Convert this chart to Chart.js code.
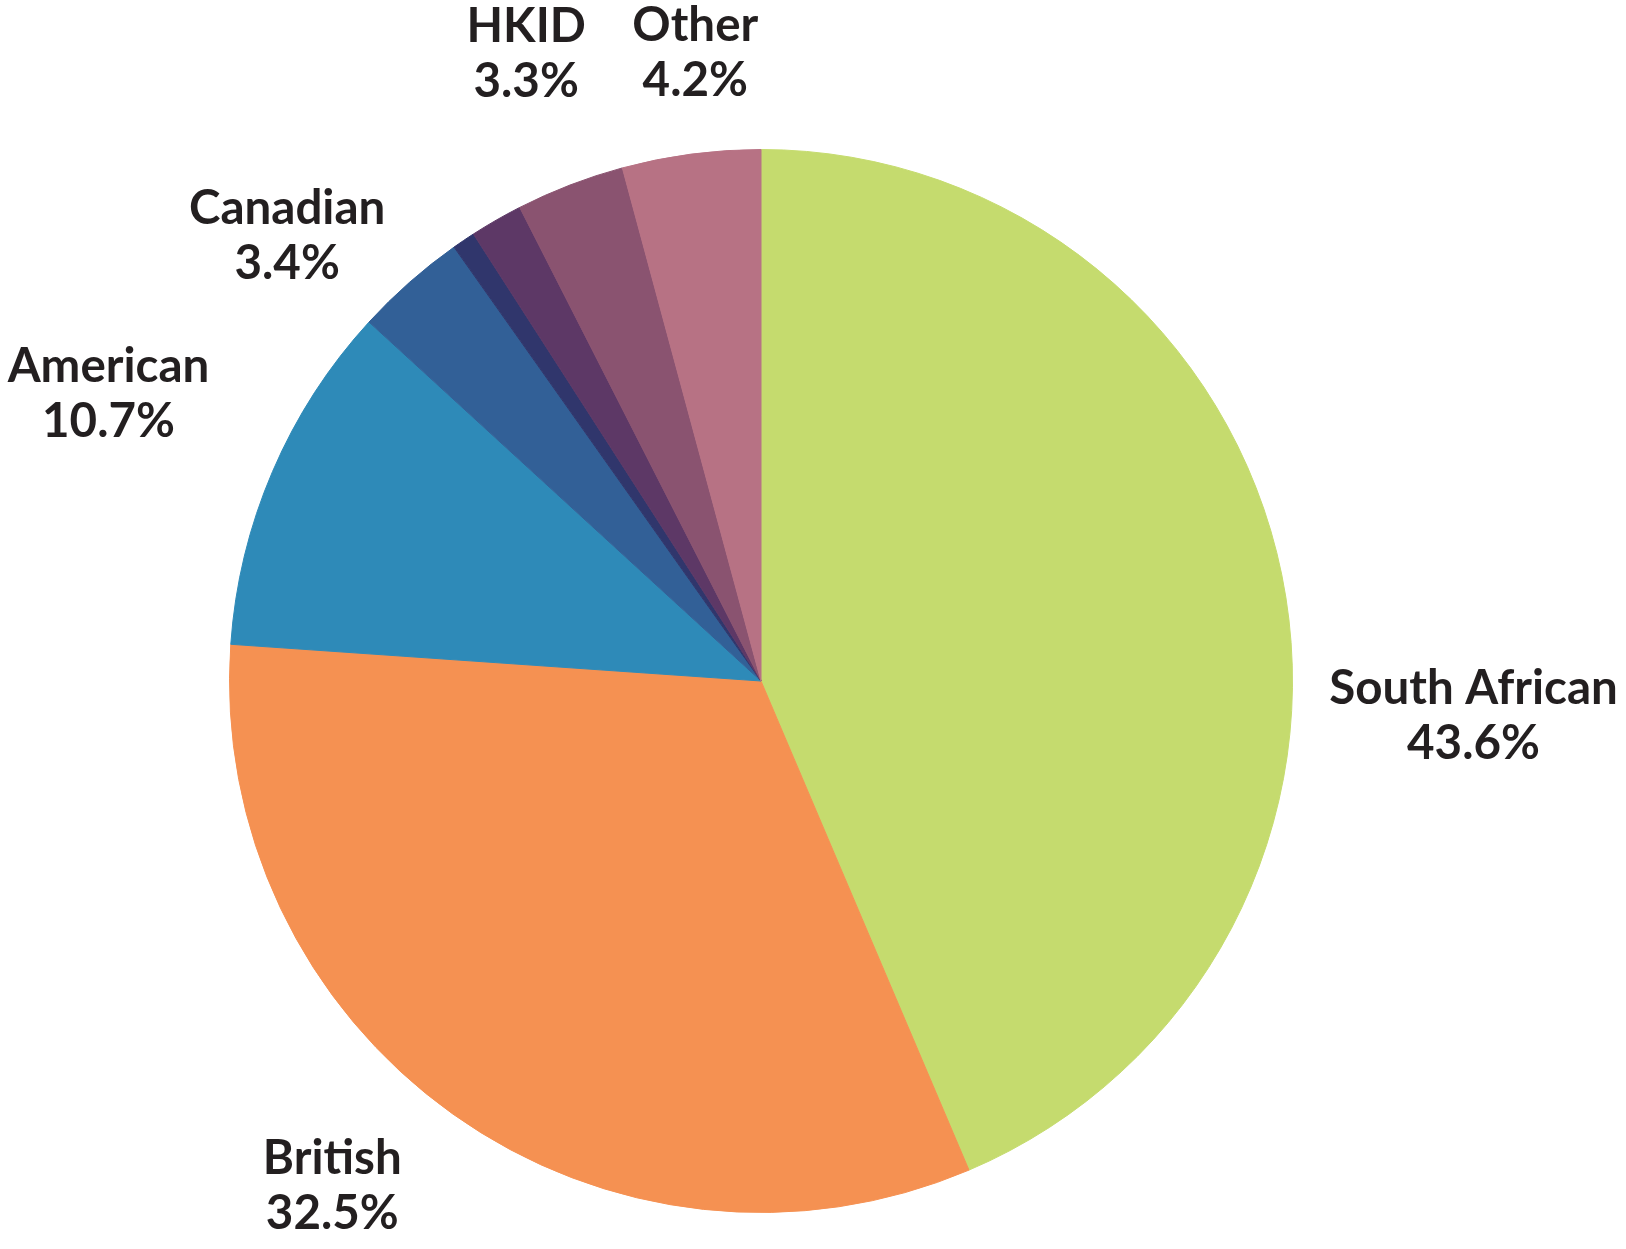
<!DOCTYPE html>
<html>
<head>
<meta charset="utf-8">
<script src="https://cdn.jsdelivr.net/npm/chart.js@4.4.1/dist/chart.umd.min.js"></script>
<style>
  html, body { margin: 0; padding: 0; background: #ffffff; }
  #wrap { width: 1626px; height: 1249px; }
</style>
</head>
<body>
<div id="wrap"><canvas id="c" width="1626" height="1249"></canvas></div>
<script>
// ---- data ----
const categories = ["South African", "British", "American", "Canadian", "", "", "HKID", "Other"];
const shares = [43.6, 32.5, 10.7, 3.4, 0.7, 1.6, 3.3, 4.2];
const valueLabels = ["43.6%", "32.5%", "10.7%", "3.4%", "", "", "3.3%", "4.2%"];

// ---- styles ----
const sliceColors = ["#c5db6e", "#f59152", "#2e8ab8", "#326097", "#30366c", "#5d3866", "#8a5370", "#b77284"];
// label placement relative to each slice: radius factor and angle nudge (degrees)
const labelRadius = [1.342, 1.243, 1.343, 1.225, 0, 0, 1.264, 1.191];
const labelAngleNudge = [14.2, 5.0, 0.7, -5.3, 0, 0, 0.6, 1.6];

const labelPlugin = {
  id: 'sliceLabels',
  afterDatasetsDraw(chart) {
    const ctx = chart.ctx;
    const meta = chart.getDatasetMeta(0);
    ctx.save();
    ctx.fillStyle = '#231f20';
    ctx.font = '700 47.5px Lato';
    ctx.textAlign = 'center';
    ctx.textBaseline = 'alphabetic';
    meta.data.forEach((arc, i) => {
      if (!categories[i]) return;
      const p = arc.getProps(['x', 'y', 'startAngle', 'endAngle', 'outerRadius'], true);
      const mid = (p.startAngle + p.endAngle) / 2 + labelAngleNudge[i] * Math.PI / 180;
      const r = p.outerRadius * labelRadius[i];
      const cx = p.x + Math.cos(mid) * r;
      const cy = p.y + Math.sin(mid) * r;
      ctx.fillText(categories[i], cx, cy - 10);
      ctx.fillText(valueLabels[i], cx, cy + 45);
    });
    ctx.restore();
  }
};

function draw() {
  new Chart(document.getElementById('c'), {
    type: 'pie',
    data: {
      labels: categories,
      datasets: [{
        data: shares,
        backgroundColor: sliceColors,
        borderColor: sliceColors,
        borderWidth: 1,
        hoverOffset: 0
      }]
    },
    options: {
      responsive: false,
      devicePixelRatio: 1,
      animation: false,
      events: [],
      layout: { padding: { top: 149, bottom: 36, left: 229, right: 333 } },
      plugins: {
        legend: { display: false },
        tooltip: { enabled: false }
      }
    },
    plugins: [labelPlugin]
  });
}

if (document.fonts && document.fonts.load) {
  document.fonts.load('700 47.5px Lato').then(draw, draw);
} else {
  draw();
}
</script>
</body>
</html>
